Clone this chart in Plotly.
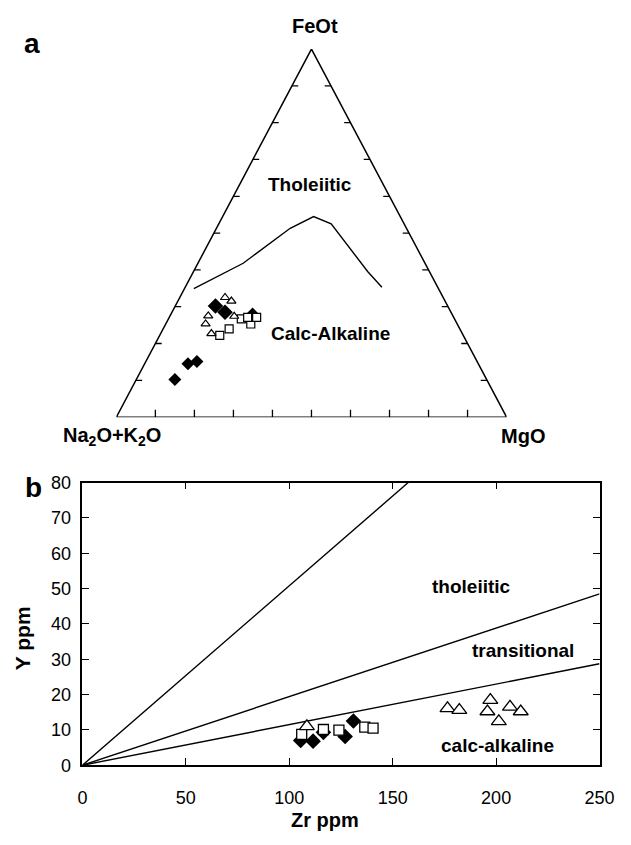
import plotly.graph_objects as go

W, H = 631, 845
FONT = "Liberation Sans"

# ---------------- (a) AFM diagram: Na2O+K2O (A), FeOt (F), MgO (M), in % ----------------
# Irvine & Baragar tholeiitic / calc-alkaline boundary
bnd_A = [62.7, 46.6, 29.8, 22.2, 18.7, 15.8, 14.3]
bnd_F = [34.9, 41.8, 51.3, 54.5, 52.5, 39.5, 35.3]
bnd_M = [2.4, 11.6, 18.9, 23.3, 28.8, 44.7, 50.4]

dia_A = [59.5, 57.9, 51.1, 79.9, 74.4, 71.8]
dia_F = [30.2, 28.5, 28.0, 10.2, 14.5, 15.1]
dia_M = [10.3, 13.6, 20.9, 9.9, 11.1, 13.1]

sq_A = [62.4, 59.1, 54.7, 52.9, 50.5, 52.8]
sq_F = [22.2, 24.0, 26.7, 25.3, 27.1, 27.1]
sq_M = [15.4, 16.9, 18.7, 21.8, 22.4, 20.1]

tri_A = [55.9, 54.7, 62.7, 64.4, 64.3, 56.1]
tri_F = [32.5, 31.5, 27.5, 25.3, 22.7, 27.4]
tri_M = [11.6, 13.7, 9.8, 10.2, 13.0, 16.5]

# ---------------- (b) Zr vs Y (ppm) ----------------
zr_dia = [105.5, 111.5, 116.5, 127.0, 131.0]
y_dia = [7.0, 6.8, 9.3, 8.1, 12.5]
zr_sq = [106.0, 116.5, 124.0, 136.5, 140.5]
y_sq = [8.7, 10.1, 9.9, 10.8, 10.5]
zr_tri = [108.5, 176.5, 182.2, 197.2, 195.8, 201.3, 206.7, 211.9]
y_tri = [11.0, 16.1, 15.6, 18.4, 15.2, 12.4, 16.5, 15.2]

# boundary rays from the origin (end points in Zr, Y)
ray_zr = [157.5, 250, 250]
ray_y = [80, 48.5, 28.7]

x_ticks = [0, 50, 100, 150, 200, 250]
y_ticks = [0, 10, 20, 30, 40, 50, 60, 70, 80]


def px(x):
    return x / W


def py(y):
    return 1 - y / H


def tern(A, F, M):
    """Ternary composition -> (x, y) in the triangle's unit frame."""
    xs, ys = [], []
    for a, f, m in zip(A, F, M):
        s = a + f + m
        f_, m_ = f / s, m / s
        xs.append(m_ + f_ / 2)
        ys.append(f_)
    return xs, ys


# triangle frame in pixels
TX0, TX1, TY0, TY1 = 115.0, 518.0, 417.0, 40.0
UX = TX1 - TX0
UY = TY0 - TY1

fig = go.Figure()

# triangle outline
ox, oy = tern([100, 0, 0, 100], [0, 100, 0, 0], [0, 0, 100, 0])
fig.add_trace(go.Scatter(x=ox, y=oy, mode="lines", line=dict(color="black", width=1.5),
                         xaxis="x", yaxis="y", cliponaxis=False, hoverinfo="skip"))

# 10 % ticks on the three sides
tx, ty = [], []
for k in range(1, 10):
    f = k / 10
    # left side (FeOt - alkalis), pointing inward
    x0, y0 = f / 2, f
    tx += [x0, x0 + 6.5 / UX, None]
    ty += [y0, y0, None]
    # right side (FeOt - MgO), pointing inward
    x0 = 1 - f / 2
    tx += [x0, x0 - 6.5 / UX, None]
    ty += [y0, y0, None]
    # base
    tx += [f, f, None]
    ty += [0, 7.5 / UY, None]
fig.add_trace(go.Scatter(x=tx, y=ty, mode="lines", line=dict(color="black", width=1.3),
                         xaxis="x", yaxis="y", cliponaxis=False, hoverinfo="skip"))

bx, by = tern(bnd_A, bnd_F, bnd_M)
fig.add_trace(go.Scatter(x=bx, y=by, mode="lines", line=dict(color="black", width=1.4),
                         xaxis="x", yaxis="y", hoverinfo="skip"))

dx, dy = tern(dia_A, dia_F, dia_M)
fig.add_trace(go.Scatter(x=dx, y=dy, mode="markers", xaxis="x", yaxis="y",
                         marker=dict(symbol="diamond", size=[12, 12, 10, 10, 10, 10], color="black",
                                     opacity=1, line=dict(width=0))))
sx, sy = tern(sq_A, sq_F, sq_M)
fig.add_trace(go.Scatter(x=sx, y=sy, mode="markers", xaxis="x", yaxis="y",
                         marker=dict(symbol="square", size=8, color="white", opacity=1,
                                     line=dict(color="black", width=1.2))))
rx, ry = tern(tri_A, tri_F, tri_M)
fig.add_trace(go.Scatter(x=rx, y=ry, mode="markers", xaxis="x", yaxis="y",
                         marker=dict(symbol="triangle-up", size=8, color="white", opacity=1,
                                     line=dict(color="black", width=1.2))))

# ---------------- panel (b) ----------------
lx, ly = [], []
for zx, zy in zip(ray_zr, ray_y):
    lx += [0, zx, None]
    ly += [0, zy, None]
fig.add_trace(go.Scatter(x=lx, y=ly, mode="lines", line=dict(color="black", width=1.4),
                         xaxis="x2", yaxis="y2", hoverinfo="skip"))
fig.add_trace(go.Scatter(x=zr_dia, y=y_dia, mode="markers", xaxis="x2", yaxis="y2",
                         marker=dict(symbol="diamond", size=12, color="black", opacity=1,
                                     line=dict(width=0))))
fig.add_trace(go.Scatter(x=zr_sq, y=y_sq, mode="markers", xaxis="x2", yaxis="y2",
                         marker=dict(symbol="square", size=10, color="white", opacity=1,
                                     line=dict(color="black", width=1.3))))
fig.add_trace(go.Scatter(x=zr_tri, y=y_tri, mode="markers", xaxis="x2", yaxis="y2",
                         marker=dict(symbol="triangle-up", size=13, color="white", opacity=1,
                                     line=dict(color="black", width=1.3))))

axis_common = dict(showgrid=False, zeroline=False)
tick_font = dict(family=FONT, size=18, color="black")

fig.update_layout(
    width=W, height=H, margin=dict(l=0, r=0, t=0, b=0),
    paper_bgcolor="white", plot_bgcolor="white", showlegend=False,
    xaxis=dict(domain=[px(TX0), px(TX1)], range=[0, 1], visible=False, **axis_common),
    yaxis=dict(domain=[py(TY0), py(TY1)], range=[0, 1], visible=False, **axis_common),
    xaxis2=dict(domain=[px(80), px(614)], range=[0, 250], anchor="y2",
                tickvals=x_ticks, ticks="inside", ticklen=7, tickwidth=1.3, tickcolor="black",
                showline=True, linecolor="black", linewidth=1.6, mirror="ticks",
                tickfont=tick_font, ticklabelstandoff=15, **axis_common),
    yaxis2=dict(domain=[py(773.5), py(484)], range=[0, 80], anchor="x2",
                tickvals=y_ticks, ticks="inside", ticklen=7, tickwidth=1.3, tickcolor="black",
                showline=True, linecolor="black", linewidth=1.6, mirror="ticks",
                tickfont=tick_font, ticklabelstandoff=6, **axis_common),
)

bold = dict(family=FONT, size=19, color="black")


def label(text, x, y, size=19, angle=0):
    fig.add_annotation(text=f"<b>{text}</b>", x=px(x), y=py(y), xref="paper", yref="paper",
                       showarrow=False, textangle=angle,
                       font=dict(family=FONT, size=size, color="black"),
                       xanchor="center", yanchor="middle")


def inner(text, x, y, xr, yr):
    fig.add_annotation(text=f"<b>{text}</b>", x=x, y=y, xref=xr, yref=yr, showarrow=False,
                       font=bold, xanchor="center", yanchor="middle")


# panel (a) labels
label("a", 28, 34, size=28)
label("FeOt", 319.8, 16, size=20)
label("Na<sub>2</sub>O+K<sub>2</sub>O", 110, 436.7, size=20)
label("MgO", 535, 436.7, size=20)
inner("Tholeiitic", 0.495, 0.631, "x", "y")
inner("Calc-Alkaline", 0.550, 0.227, "x", "y")

# panel (b) labels
label("b", 29, 489, size=28)
inner("tholeiitic", 188, 50.5, "x2", "y2")
inner("transitional", 213, 32.4, "x2", "y2")
inner("calc-alkaline", 200.5, 5.6, "x2", "y2")
label("Zr ppm", 330, 830, size=20)
label("Y ppm", 18, 643, size=21, angle=-90)

fig.write_html("out.html")
